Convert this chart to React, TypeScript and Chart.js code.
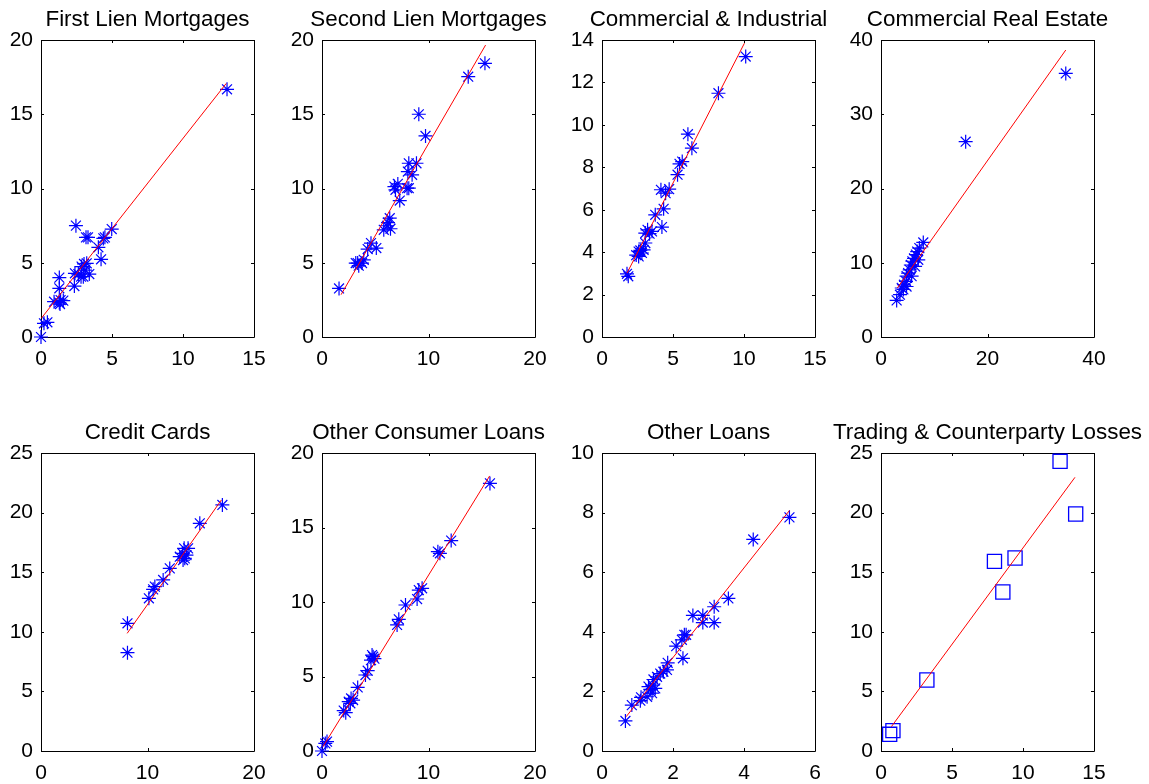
import React, { useEffect, useRef } from 'react';
import { Chart, registerables } from 'chart.js';

Chart.register(...registerables);

const FONT = '"Liberation Sans", Arial, Helvetica, sans-serif';

// ---- Data ----
const titles = [
  'First Lien Mortgages',
  'Second Lien Mortgages',
  'Commercial & Industrial',
  'Commercial Real Estate',
  'Credit Cards',
  'Other Consumer Loans',
  'Other Loans',
  'Trading & Counterparty Losses',
];

const firstLienX = [0, 0.21, 0.45, 0.92, 1.29, 1.38, 1.57, 1.34, 1.29, 1.29, 2.35, 2.46, 2.39, 2.63, 2.82, 2.98, 2.86, 3.03, 3.22, 3.4, 3.1, 3.17, 3.31, 4.04, 4.23, 4.39, 4.5, 4.98, 13.1];
const firstLienY = [0, 0.92, 0.99, 2.38, 2.31, 2.49, 2.45, 2.22, 3.28, 4.0, 3.43, 7.5, 4.29, 4.24, 4.06, 4.06, 4.74, 4.92, 4.96, 4.24, 4.5, 6.71, 6.71, 6.04, 5.23, 6.64, 6.71, 7.27, 16.68];
const firstLienFitX = [0.03, 13.05];
const firstLienFitY = [1.27, 17.08];

const secondLienX = [1.6, 3.17, 3.35, 3.45, 3.76, 3.92, 4.29, 4.6, 5.1, 5.8, 6.11, 6.2, 6.36, 6.43, 6.8, 6.9, 7.12, 7.3, 7.99, 8.15, 8.06, 8.15, 8.46, 8.87, 9.09, 9.72, 13.73, 15.3];
const secondLienY = [3.27, 4.98, 4.98, 4.8, 4.98, 5.2, 5.92, 6.32, 5.99, 7.22, 7.49, 7.7, 8.0, 7.29, 10.13, 9.91, 10.31, 9.19, 10.02, 10.02, 11.14, 11.7, 10.92, 11.7, 15.0, 13.54, 17.53, 18.43];
const secondLienFitX = [1.79, 15.36];
const secondLienFitY = [2.85, 19.66];

const ciX = [1.76, 1.85, 2.41, 2.58, 2.58, 2.7, 2.81, 2.93, 3.05, 3.05, 3.21, 3.35, 3.52, 3.75, 4.22, 4.34, 4.15, 4.48, 4.73, 5.32, 5.46, 5.65, 6.05, 6.33, 8.2, 10.12];
const ciY = [2.98, 2.86, 3.86, 4.03, 3.8, 4.08, 3.96, 4.11, 4.43, 4.9, 5.05, 4.87, 4.98, 5.76, 5.18, 6.04, 6.94, 6.78, 6.97, 7.65, 8.16, 8.27, 9.56, 8.9, 11.49, 13.22];
const ciFitX = [1.76, 10.03];
const ciFitY = [3.01, 13.85];

const creX = [2.94, 3.56, 3.9, 4.2, 4.3, 4.7, 4.8, 4.8, 5.1, 5.4, 5.6, 5.75, 5.9, 6.2, 6.4, 6.56, 6.8, 7.0, 7.2, 7.94, 15.9, 34.7];
const creY = [4.93, 5.7, 6.6, 6.4, 7.04, 7.5, 8.2, 6.8, 8.6, 9.05, 9.7, 8.2, 10.2, 10.6, 9.5, 11.1, 11.5, 10.4, 11.97, 12.74, 26.3, 35.5];
const creFitX = [3.06, 34.7];
const creFitY = [6.59, 38.65];

const cardsX = [8.12, 8.12, 10.13, 10.53, 10.69, 11.47, 12.09, 13.03, 13.28, 13.44, 13.5, 13.66, 13.81, 13.34, 14.91, 17.03];
const cardsY = [8.25, 10.71, 12.81, 13.56, 13.79, 14.35, 15.32, 16.3, 16.58, 17.0, 16.16, 16.44, 17.0, 16.02, 19.1, 20.64];
const cardsFitX = [8.09, 16.94];
const cardsFitY = [9.87, 21.06];

const consumerX = [0, 0.31, 0.47, 2.04, 2.23, 2.51, 2.66, 2.73, 2.92, 3.35, 4.08, 4.29, 4.6, 4.7, 4.8, 4.92, 7.05, 7.21, 7.84, 8.93, 9.09, 9.4, 10.88, 11.07, 12.13, 15.77];
const consumerY = [0, 0.51, 0.63, 2.71, 2.57, 3.31, 3.2, 3.53, 3.42, 4.27, 5.1, 5.39, 6.1, 6.44, 6.33, 6.2, 8.46, 8.84, 9.8, 10.2, 10.8, 10.92, 13.38, 13.27, 14.12, 17.96];
const consumerFitX = [0.09, 15.74];
const consumerFitY = [0.29, 18.46];

const otherX = [0.66, 0.84, 1.08, 1.1, 1.27, 1.31, 1.36, 1.41, 1.43, 1.45, 1.5, 1.55, 1.64, 1.73, 1.83, 1.85, 2.09, 2.25, 2.28, 2.32, 2.37, 2.56, 2.84, 2.84, 3.16, 3.16, 3.56, 4.26, 5.28];
const otherY = [1.01, 1.54, 1.69, 1.8, 1.82, 2.16, 2.07, 1.94, 2.21, 2.4, 2.1, 2.49, 2.6, 2.66, 2.72, 2.96, 3.52, 3.73, 3.11, 3.9, 3.9, 4.55, 4.55, 4.31, 4.84, 4.31, 5.12, 7.1, 7.84];
const otherFitX = [0.68, 5.28];
const otherFitY = [1.15, 8.07];

const tradingX = [0.61, 0.84, 3.23, 7.99, 8.58, 9.44, 12.61, 13.71];
const tradingY = [1.4, 1.71, 5.96, 15.91, 13.34, 16.19, 24.3, 19.88];
const tradingFitX = [0.73, 13.66];
const tradingFitY = [2.04, 22.96];

// axis limits: [min, max, step]
const xAxes = [[0, 15, 5], [0, 20, 10], [0, 15, 5], [0, 40, 20], [0, 20, 10], [0, 20, 10], [0, 6, 2], [0, 15, 5]];
const yAxes = [[0, 20, 5], [0, 20, 5], [0, 14, 2], [0, 40, 10], [0, 25, 5], [0, 20, 5], [0, 10, 2], [0, 25, 5]];

const seriesX = [firstLienX, secondLienX, ciX, creX, cardsX, consumerX, otherX, tradingX];
const seriesY = [firstLienY, secondLienY, ciY, creY, cardsY, consumerY, otherY, tradingY];
const fitXs = [firstLienFitX, secondLienFitX, ciFitX, creFitX, cardsFitX, consumerFitX, otherFitX, tradingFitX];
const fitYs = [firstLienFitY, secondLienFitY, ciFitY, creFitY, cardsFitY, consumerFitY, otherFitY, tradingFitY];
const markers = ['star', 'star', 'star', 'star', 'star', 'star', 'star', 'rect'];

// ---- Layout ----
const PLOT_LEFTS = [41, 322, 602, 881];
const PLOT_TOPS = [40, 453];
const PLOT_W = 213;
const PLOT_H = [297, 298];
const PAD_L = 60;
const PAD_T = 40;
const PAD_R = 60;
const PAD_B = 40;

const boxPlugin = {
  id: 'matlabBox',
  beforeDatasetsDraw(chart: any) {
    const { ctx, chartArea } = chart;
    const { left, right, top, bottom } = chartArea;
    ctx.save();
    ctx.strokeStyle = '#000';
    ctx.lineWidth = 1;
    ctx.beginPath();
    ctx.rect(Math.round(left) + 0.5, Math.round(top) + 0.5, Math.round(right - left), Math.round(bottom - top));
    ctx.stroke();
    const tl = 3;
    ctx.beginPath();
    const xs = chart.scales.x;
    xs.ticks.forEach((t: any) => {
      const px = Math.round(xs.getPixelForValue(t.value)) + 0.5;
      ctx.moveTo(px, bottom);
      ctx.lineTo(px, bottom - tl);
      ctx.moveTo(px, top);
      ctx.lineTo(px, top + tl);
    });
    const ys = chart.scales.y;
    ys.ticks.forEach((t: any) => {
      const py = Math.round(ys.getPixelForValue(t.value)) + 0.5;
      ctx.moveTo(left, py);
      ctx.lineTo(left + tl, py);
      ctx.moveTo(right, py);
      ctx.lineTo(right - tl, py);
    });
    ctx.stroke();
    ctx.restore();
  },
};

const titlePlugin = {
  id: 'matlabTitle',
  afterDraw(chart: any, _args: any, opts: any) {
    const { ctx, chartArea } = chart;
    ctx.save();
    ctx.font = `22.4px ${FONT}`;
    ctx.fillStyle = '#000';
    ctx.textAlign = 'center';
    ctx.textBaseline = 'alphabetic';
    ctx.fillText(opts.text, (chartArea.left + chartArea.right) / 2, chartArea.top - 14);
    ctx.restore();
  },
};

function Panel({ index }: { index: number }) {
  const ref = useRef<HTMLCanvasElement | null>(null);
  const row = Math.floor(index / 4);
  const col = index % 4;
  const plotH = PLOT_H[row];
  const width = PAD_L + PLOT_W + PAD_R;
  const height = PAD_T + plotH + PAD_B;

  useEffect(() => {
    if (!ref.current) return;
    const xs = seriesX[index];
    const ys = seriesY[index];
    const [xmin, xmax, xstep] = xAxes[index];
    const [ymin, ymax, ystep] = yAxes[index];
    const isRect = markers[index] === 'rect';
    const chart = new Chart(ref.current, {
      type: 'scatter',
      data: {
        datasets: [
          {
            type: 'line',
            data: fitXs[index].map((x, i) => ({ x, y: fitYs[index][i] })),
            borderColor: 'rgb(255,0,0)',
            borderWidth: 1,
            pointRadius: 0,
            showLine: true,
            fill: false,
          } as any,
          {
            type: 'scatter',
            data: xs.map((x, i) => ({ x, y: ys[i] })),
            pointStyle: markers[index] as any,
            pointRadius: isRect ? 10 : 7,
            borderColor: 'rgb(0,0,255)',
            backgroundColor: 'rgba(0,0,0,0)',
            borderWidth: isRect ? 1.3 : 1.2,
            clip: false,
          } as any,
        ],
      },
      options: {
        animation: false,
        responsive: false,
        events: [],
        layout: { padding: { top: PAD_T, right: PAD_R, left: 0, bottom: 0 } },
        plugins: {
          legend: { display: false },
          tooltip: { enabled: false },
          matlabTitle: { text: titles[index] },
        } as any,
        scales: {
          x: {
            type: 'linear',
            position: 'bottom',
            min: xmin,
            max: xmax,
            grid: { display: false, drawTicks: false, tickLength: 0 },
            border: { display: false },
            ticks: {
              stepSize: xstep,
              autoSkip: false,
              maxRotation: 0,
              padding: 10,
              color: '#000',
              font: { family: FONT, size: 21 },
            },
            afterFit: (s: any) => {
              s.height = PAD_B;
            },
          },
          y: {
            type: 'linear',
            position: 'left',
            min: ymin,
            max: ymax,
            grid: { display: false, drawTicks: false, tickLength: 0 },
            border: { display: false },
            ticks: {
              stepSize: ystep,
              autoSkip: false,
              padding: 8,
              color: '#000',
              font: { family: FONT, size: 21 },
            },
            afterFit: (s: any) => {
              s.width = PAD_L;
            },
          },
        },
      } as any,
      plugins: [boxPlugin, titlePlugin],
    });
    return () => chart.destroy();
  }, [index]);

  return (
    <canvas
      ref={ref}
      width={width}
      height={height}
      style={{
        position: 'absolute',
        left: PLOT_LEFTS[col] - PAD_L,
        top: PLOT_TOPS[row] - PAD_T,
        width,
        height,
      }}
    />
  );
}

export default function App() {
  return (
    <div
      style={{
        position: 'absolute',
        left: 0,
        top: 0,
        width: 1149,
        height: 784,
        overflow: 'hidden',
        background: '#fff',
      }}
    >
      {titles.map((_, i) => (
        <Panel key={i} index={i} />
      ))}
    </div>
  );
}
